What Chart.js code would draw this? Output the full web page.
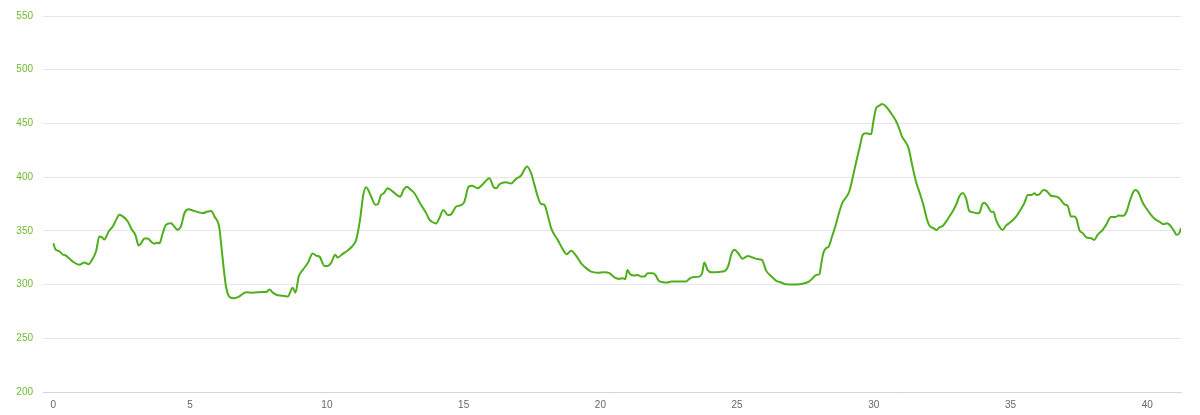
<!DOCTYPE html>
<html>
<head>
<meta charset="utf-8">
<script src="https://cdn.jsdelivr.net/npm/chart.js@4/dist/chart.umd.min.js"></script>
<style>
  body { margin: 0; background: #fff; }
  #profile { display: block; }
</style>
</head>
<body>
<canvas id="profile" width="1200" height="415"></canvas>
<script>
// distance along the route (km) and elevation (m)
const distanceKm = [
  0, 0.07, 0.22, 0.34, 0.46, 0.59, 0.73, 0.95, 1.13, 1.29, 1.41, 1.56, 1.68, 1.78, 1.86, 2.02, 2.17, 2.29, 2.41, 2.56,
  2.72, 2.84, 3.00, 3.12, 3.21, 3.33, 3.45, 3.57, 3.69, 3.78, 3.88, 4.00, 4.12, 4.30, 4.42, 4.54, 4.67, 4.79, 4.95, 5.09,
  5.28, 5.46, 5.64, 5.77, 5.89, 6.07, 6.13, 6.22, 6.31, 6.44, 6.62, 6.80, 7.05, 7.29, 7.65, 7.78, 7.90, 8.02, 8.20, 8.45,
  8.57, 8.75, 8.85, 8.97, 9.12, 9.30, 9.48, 9.63, 9.73, 9.91, 10.03, 10.15, 10.31, 10.39, 10.58, 10.76, 10.94, 11.07, 11.21, 11.33,
  11.43, 11.62, 11.77, 11.86, 11.98, 12.08, 12.22, 12.41, 12.68, 12.80, 12.92, 13.08, 13.20, 13.44, 13.63, 13.75, 13.87, 13.99, 14.11, 14.26,
  14.42, 14.54, 14.72, 14.91, 15.03, 15.18, 15.31, 15.51, 15.70, 15.94, 16.09, 16.19, 16.31, 16.55, 16.73, 16.92, 17.10, 17.32, 17.47, 17.59,
  17.71, 17.83, 17.95, 18.07, 18.20, 18.32, 18.44, 18.60, 18.77, 18.93, 19.11, 19.29, 19.48, 19.66, 19.90, 20.15, 20.33, 20.51, 20.69, 20.82,
  20.91, 20.99, 21.09, 21.24, 21.36, 21.49, 21.61, 21.73, 21.91, 22.01, 22.13, 22.28, 22.46, 22.59, 22.83, 23.13, 23.25, 23.37, 23.62, 23.72,
  23.80, 23.92, 24.05, 24.35, 24.57, 24.69, 24.78, 24.90, 25.02, 25.20, 25.39, 25.57, 25.75, 25.91, 26.06, 26.24, 26.42, 26.61, 26.79, 27.03,
  27.28, 27.46, 27.64, 27.76, 27.89, 28.01, 28.07, 28.15, 28.25, 28.35, 28.47, 28.59, 28.74, 28.86, 28.98, 29.10, 29.22, 29.37, 29.50, 29.59,
  29.71, 29.90, 29.98, 30.08, 30.20, 30.30, 30.45, 30.63, 30.79, 30.91, 31.03, 31.15, 31.27, 31.40, 31.54, 31.66, 31.81, 31.93, 32.03, 32.18,
  32.30, 32.40, 32.52, 32.64, 32.76, 32.91, 33.03, 33.13, 33.25, 33.37, 33.49, 33.64, 33.80, 33.88, 33.96, 34.04, 34.16, 34.29, 34.37, 34.47,
  34.59, 34.71, 34.83, 35.02, 35.20, 35.38, 35.50, 35.63, 35.77, 35.87, 35.95, 36.05, 36.20, 36.32, 36.48, 36.66, 36.78, 36.97, 37.09, 37.21,
  37.33, 37.42, 37.51, 37.64, 37.78, 37.94, 38.06, 38.18, 38.37, 38.49, 38.67, 38.83, 38.95, 39.12, 39.24, 39.37, 39.49, 39.57, 39.69, 39.81,
  39.96, 40.14, 40.29, 40.44, 40.59, 40.72, 40.87, 40.99, 41.07, 41.17, 41.23
];

const elevationM = [
  338.5, 333, 331, 328, 327, 324, 321, 318.5, 320.5, 319, 323, 331, 344.7, 344, 342, 349.4, 354, 360, 365, 363,
  358.7, 352.5, 346, 336.3, 338.5, 343, 343, 340, 338, 339, 338.5, 348, 355.6, 357, 354, 351, 354.6, 366.4, 370, 369,
  367.5, 366.5, 368, 368.6, 363.4, 352.5, 338.5, 316.8, 298.4, 288.5, 287.2, 289, 292.8, 292.5, 293, 293, 295.5, 292.5, 290, 289.4,
  289, 297, 292.5, 307.5, 313.7, 320, 329, 326.7, 326, 317.4, 317.4, 320, 327.7, 325.2, 328.6, 331.7, 336, 341.6, 360, 383.3,
  390.6, 381.9, 374.3, 374.8, 383.3, 385, 389.6, 386.5, 381.9, 388, 391, 388, 385, 374.3, 366.5, 360.5, 358, 356.8, 361.7, 369.4,
  364.7, 365.4, 372.5, 374, 377.3, 391, 392, 389.6, 393.4, 399, 391, 389.6, 393.4, 395.3, 394, 398.4, 401.5, 410, 403.5, 392.8,
  381.9, 375, 374.3, 365, 352.5, 346.3, 341.6, 334, 328.3, 331.4, 327, 320, 315.3, 312, 311, 311.5, 310.6, 306.8, 305.3, 306,
  305, 313.6, 309.6, 308.4, 309, 307.4, 307.4, 310.6, 310.6, 309, 303.7, 302.2, 301.9, 302.8, 302.8, 302.8, 305.3, 306.8, 307.4, 310.6,
  320.5, 313.7, 311.5, 311.8, 313, 318.3, 327.7, 332.3, 329.8, 324, 326.7, 325.2, 323.7, 323, 313, 308, 303.7, 301.9, 300.2, 300,
  300.2, 301.2, 303, 305.9, 309, 309.6, 318.3, 329.2, 333.8, 335.4, 344.7, 354, 368, 376.7, 381, 386.6, 399, 416, 430, 439.2,
  440.8, 440, 451.6, 464, 466.5, 468, 465.6, 459.4, 453.2, 446.4, 437.7, 433, 426.8, 411.3, 395.8, 386.5, 374.2, 361.8, 354.9, 352.5,
  350.9, 353.4, 354.6, 358.6, 363.3, 369.4, 375.7, 382.4, 385.2, 380.2, 368.5, 367.2, 366.3, 367.8, 374.6, 376.2, 373, 367.8, 367.8, 360,
  353.8, 350.9, 354.9, 358.6, 363.3, 370.4, 375.7, 383.4, 383.4, 385, 383.4, 384, 388, 387, 382.7, 381.9, 380.3, 374.7, 373.1, 363.3,
  363.3, 360.3, 351, 347.9, 343.8, 343.2, 341.6, 346.3, 351, 355.6, 362.8, 362.8, 364.3, 364, 368, 378.7, 386.5, 388, 385, 377.3,
  371, 364.7, 360.7, 358.6, 356.2, 357, 353.8, 349.2, 346.3, 347.9, 352.5
];

const xTicks = [0, 5, 10, 15, 20, 25, 30, 35, 40];
const yTicks = [200, 250, 300, 350, 400, 450, 500, 550];

const points = distanceKm.map((d, i) => ({ x: d, y: elevationM[i] }));

const ctx = document.getElementById('profile').getContext('2d');
new Chart(ctx, {
  type: 'line',
  data: {
    datasets: [{
      data: points,
      borderColor: '#4fae1b',
      borderWidth: 2,
      pointRadius: 0,
      fill: false,
      cubicInterpolationMode: 'monotone'
    }]
  },
  options: {
    responsive: false,
    animation: false,
    devicePixelRatio: 1,
    layout: { padding: { left: 0, right: 19, top: 16, bottom: 0 } },
    plugins: { legend: { display: false }, tooltip: { enabled: false } },
    scales: {
      x: {
        type: 'linear',
        min: -0.38,
        max: 41.23,
        afterBuildTicks: (axis) => { axis.ticks = xTicks.map(v => ({ value: v })); },
        afterFit: (axis) => { axis.height = 23; },
        grid: { display: false, drawTicks: false },
        border: { display: true, color: '#ccd6eb', width: 1 },
        ticks: {
          color: '#666666',
          font: { family: 'Liberation Sans', size: 10 },
          padding: 7,
          maxRotation: 0,
          autoSkip: false
        }
      },
      y: {
        min: 200,
        max: 550,
        afterBuildTicks: (axis) => { axis.ticks = yTicks.map(v => ({ value: v })); },
        afterFit: (axis) => { axis.width = 43; },
        grid: { color: '#e6e6e6', lineWidth: 1, drawTicks: false },
        border: { display: false },
        ticks: {
          color: '#6fb82e',
          font: { family: 'Liberation Sans', size: 10 },
          padding: 10
        }
      }
    }
  }
});
</script>
</body>
</html>
